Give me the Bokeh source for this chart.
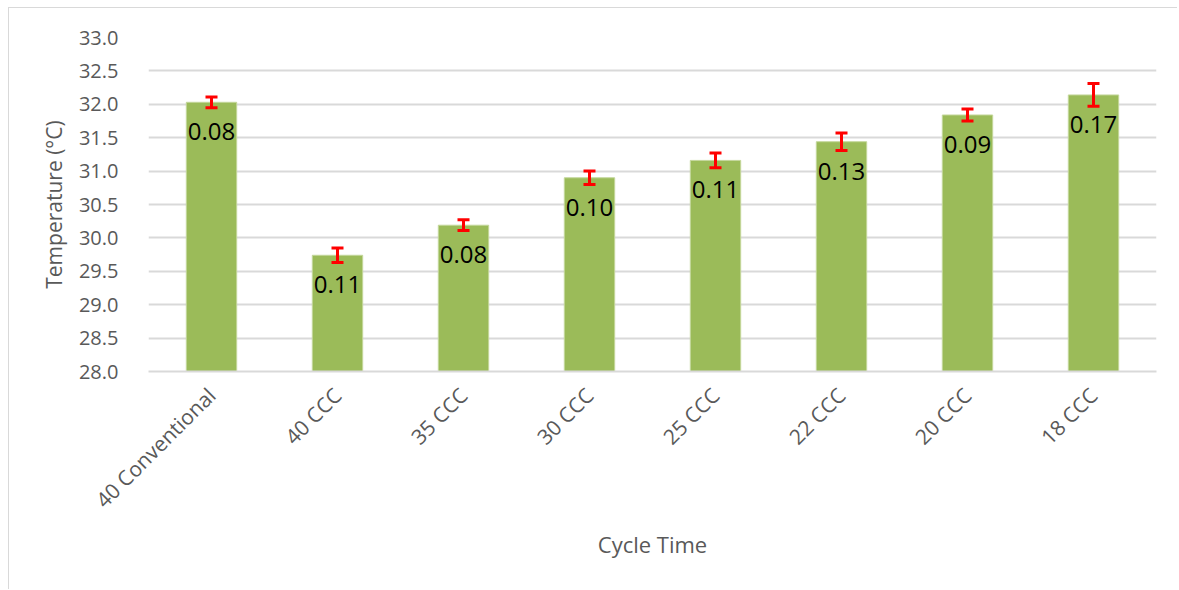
from bokeh.plotting import figure
from bokeh.models import ColumnDataSource, Whisker, LabelSet, FixedTicker, CustomJSTickFormatter
from bokeh.core.properties import value
from bokeh.embed import file_html
from bokeh.resources import INLINE
import math

categories = ["40 Conventional", "40 CCC", "35 CCC", "30 CCC", "25 CCC", "22 CCC", "20 CCC", "18 CCC"]
temps = [32.03, 29.74, 30.19, 30.90, 31.16, 31.44, 31.84, 32.14]
sds = [0.08, 0.11, 0.08, 0.10, 0.11, 0.13, 0.09, 0.17]
sd_labels = ["0.08", "0.11", "0.08", "0.10", "0.11", "0.13", "0.09", "0.17"]

src = ColumnDataSource(dict(
    cat=categories,
    temp=temps,
    lower=[t - s for t, s in zip(temps, sds)],
    upper=[t + s for t, s in zip(temps, sds)],
    lab=sd_labels,
))

FONT = "Open Sans"
GREY = "#595959"

p = figure(x_range=categories, y_range=(28.0, 33.0), width=1169, height=582,
           output_backend="svg", toolbar_location=None,
           min_border_left=139, min_border_right=22, min_border_top=29, min_border_bottom=219)
p.margin = (7, 0, 0, 8)
p.styles = {"border-left": "1px solid #d9d9d9", "border-top": "1px solid #d9d9d9"}
p.outline_line_color = None
p.background_fill_color = "white"

p.vbar(x="cat", top="temp", bottom=28.0, width=0.4, source=src,
       fill_color="#9bbb59", line_color="#c4d79b", line_width=1)

w = Whisker(source=src, base="cat", lower="lower", upper="upper",
            line_color="#ff0000", line_width=3, level="overlay")
for h in (w.upper_head, w.lower_head):
    h.size = 12
    h.line_color = "#ff0000"
    h.line_width = 3
p.add_layout(w)

labels = LabelSet(x="cat", y="temp", text="lab", source=src, text_align="center",
                  text_baseline="top", y_offset=-21, text_font=value(FONT),
                  text_font_size="24px", text_color="black")
p.add_layout(labels)

p.yaxis.ticker = FixedTicker(ticks=[28.0 + 0.5 * i for i in range(11)])
p.yaxis.formatter = CustomJSTickFormatter(code="return tick.toFixed(1);")
p.ygrid.grid_line_color = "#d9d9d9"
p.ygrid.grid_line_width = 2
p.xgrid.grid_line_color = None

for ax in (p.xaxis, p.yaxis):
    ax.major_tick_line_color = None
    ax.minor_tick_line_color = None
    ax.major_label_text_font = FONT
    ax.major_label_text_color = GREY
    ax.axis_label_text_font = FONT
    ax.axis_label_text_color = GREY
    ax.axis_label_text_font_style = "normal"

p.yaxis.axis_line_color = None
p.yaxis.major_label_text_font_size = "20px"
p.yaxis.major_label_standoff = 24
p.yaxis.axis_label = "Temperature (°C)"
p.yaxis.axis_label_text_font_size = "21px"
p.yaxis.axis_label_standoff = 8

p.xaxis.axis_line_color = "#d9d9d9"
p.xaxis.axis_line_width = 2
p.xaxis.major_label_text_font_size = "21px"
p.xaxis.major_label_orientation = math.pi / 4
p.xaxis.major_label_standoff = 14
p.xaxis.axis_label = "Cycle Time"
p.xaxis.axis_label_text_font_size = "22px"
p.xaxis.axis_label_standoff = 3

open("out.html", "w").write(file_html(p, INLINE))
